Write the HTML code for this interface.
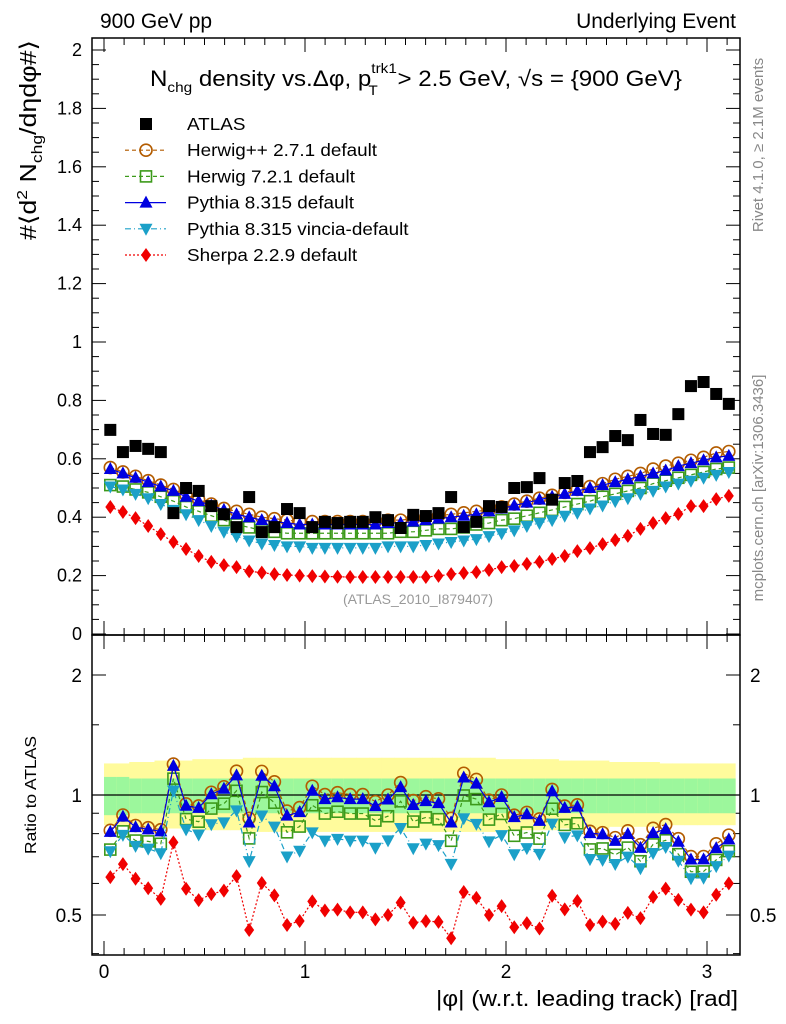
<!DOCTYPE html>
<html><head><meta charset="utf-8"><style>
body{margin:0;background:#fff;}
svg{display:block;font-family:"Liberation Sans",sans-serif;}
</style></head><body>
<svg id="chart" width="786" height="1024" viewBox="0 0 786 1024" xmlns="http://www.w3.org/2000/svg">
<text x="100" y="28" font-size="21">900 GeV pp</text>
<text x="736" y="28" font-size="21" text-anchor="end">Underlying Event</text>
<text transform="translate(763,145) rotate(-90)" font-size="15" fill="#888" text-anchor="middle">Rivet 4.1.0, ≥ 2.1M events</text>
<text transform="translate(763,488) rotate(-90)" font-size="15" fill="#888" text-anchor="middle">mcplots.cern.ch [arXiv:1306.3436]</text>
<text transform="translate(36,140) rotate(-90)" font-size="23" text-anchor="middle" textLength="200" lengthAdjust="spacingAndGlyphs">#⟨d<tspan font-size="15" dy="-9">2</tspan><tspan dy="9"> N</tspan><tspan font-size="15" dy="6">chg</tspan><tspan dy="-6">/dηdφ#⟩</tspan></text>
<text transform="translate(36,795) rotate(-90)" font-size="16" text-anchor="middle" textLength="118" lengthAdjust="spacingAndGlyphs">Ratio to ATLAS</text>
<text x="738" y="1006" font-size="22" text-anchor="end" textLength="302" lengthAdjust="spacingAndGlyphs">|φ| (w.r.t. leading track) [rad]</text>
<text x="150" y="86" font-size="22" textLength="532" lengthAdjust="spacingAndGlyphs">N<tspan font-size="14" dy="6">chg</tspan><tspan dy="-6"> density vs.Δφ, p</tspan><tspan font-size="14" dy="-13">trk1</tspan><tspan font-size="14" dx="-26" dy="22">T</tspan><tspan dx="18" dy="-9">&gt; 2.5 GeV, √s = {900 GeV}</tspan></text>
<text x="418" y="604" font-size="14" fill="#999" text-anchor="middle">(ATLAS_2010_I879407)</text>
<g id="main"></g><g id="ratio"></g><g id="legend"></g>
</svg>
<script>
const xCenters=[];for(let i=0;i<50;i++)xCenters.push(+(0.0314+i*0.0628).toFixed(4));
const atlas=[0.699,0.623,0.644,0.634,0.623,0.414,0.500,0.490,0.438,0.410,0.366,0.469,0.349,0.366,0.428,0.414,0.366,0.384,0.380,0.384,0.384,0.400,0.390,0.363,0.408,0.404,0.414,0.469,0.366,0.384,0.438,0.435,0.500,0.503,0.534,0.460,0.517,0.524,0.623,0.640,0.678,0.664,0.733,0.685,0.682,0.753,0.849,0.863,0.822,0.788];
const herwigpp=[0.57,0.555,0.54,0.525,0.51,0.495,0.475,0.46,0.445,0.43,0.42,0.41,0.40,0.395,0.39,0.385,0.385,0.385,0.385,0.385,0.385,0.385,0.39,0.39,0.395,0.40,0.405,0.41,0.415,0.42,0.425,0.435,0.445,0.455,0.465,0.475,0.485,0.495,0.505,0.515,0.53,0.54,0.55,0.565,0.575,0.585,0.595,0.605,0.62,0.625];
const pythia=[0.565,0.55,0.535,0.52,0.505,0.49,0.47,0.455,0.44,0.425,0.41,0.40,0.39,0.385,0.38,0.375,0.375,0.375,0.375,0.375,0.375,0.375,0.38,0.38,0.385,0.39,0.395,0.40,0.405,0.41,0.42,0.43,0.44,0.45,0.46,0.47,0.48,0.49,0.50,0.51,0.52,0.53,0.54,0.55,0.56,0.575,0.585,0.595,0.605,0.61];
const herwig7=[0.51,0.505,0.495,0.485,0.47,0.455,0.435,0.42,0.405,0.39,0.375,0.365,0.355,0.35,0.345,0.345,0.345,0.345,0.345,0.345,0.345,0.345,0.345,0.35,0.35,0.355,0.36,0.36,0.365,0.375,0.38,0.39,0.395,0.405,0.415,0.425,0.435,0.445,0.455,0.47,0.48,0.49,0.50,0.515,0.525,0.535,0.545,0.555,0.565,0.57];
const vincia=[0.505,0.495,0.48,0.465,0.445,0.425,0.41,0.39,0.37,0.35,0.335,0.32,0.31,0.305,0.30,0.30,0.295,0.295,0.295,0.295,0.295,0.295,0.30,0.30,0.30,0.305,0.31,0.315,0.32,0.325,0.335,0.345,0.355,0.37,0.38,0.39,0.405,0.415,0.43,0.44,0.455,0.465,0.48,0.49,0.505,0.515,0.525,0.535,0.545,0.555];
const sherpa=[0.435,0.418,0.397,0.370,0.342,0.315,0.291,0.267,0.247,0.236,0.229,0.215,0.21,0.205,0.202,0.2,0.198,0.197,0.196,0.195,0.195,0.195,0.195,0.195,0.195,0.195,0.199,0.205,0.209,0.212,0.219,0.229,0.233,0.24,0.247,0.257,0.267,0.284,0.294,0.308,0.322,0.336,0.36,0.38,0.397,0.411,0.438,0.438,0.462,0.473];
const statErr=[0.11,0.11,0.10,0.10,0.10,0.10,0.10,0.10,0.10,0.10,0.10,0.10,0.10,0.10,0.10,0.10,0.10,0.10,0.10,0.10,0.10,0.10,0.10,0.10,0.10,0.10,0.10,0.10,0.10,0.10,0.10,0.10,0.10,0.10,0.10,0.10,0.10,0.10,0.10,0.10,0.10,0.10,0.10,0.10,0.10,0.10,0.10,0.10,0.10,0.10];
const totErr=[0.20,0.20,0.21,0.21,0.22,0.22,0.22,0.23,0.23,0.23,0.23,0.24,0.24,0.24,0.24,0.24,0.24,0.24,0.24,0.24,0.24,0.24,0.24,0.24,0.24,0.24,0.24,0.24,0.24,0.24,0.24,0.23,0.23,0.23,0.23,0.23,0.22,0.22,0.22,0.22,0.21,0.21,0.21,0.21,0.20,0.20,0.20,0.20,0.20,0.20];
const yTicks=["0","0.2","0.4","0.6","0.8","1","1.2","1.4","1.6","1.8","2"];
const xTicks=["0","1","2","3"];
const rTicks=["0.5","1","2"];

const NS="http://www.w3.org/2000/svg";
const L=92,R=740,T=38,MB=635,RB=955;
const X=v=>104+v*201;
const Y=v=>634-v*292;
const YR=r=>795-Math.log2(r)*120;
function mk(tag,at,parent){const e=document.createElementNS(NS,tag);for(const k in at)e.setAttribute(k,at[k]);parent.appendChild(e);return e;}
const main=document.getElementById('main'),ratio=document.getElementById('ratio'),leg=document.getElementById('legend');

for(let i=0;i<50;i++){
  const x0=X(xCenters[i]-0.0314),w=201*0.0628+0.5;
  const a=mk('rect',{x:x0,y:YR(1+totErr[i]),width:w,height:YR(1-totErr[i]*0.8)-YR(1+totErr[i]),fill:'#fffb9c'},ratio);
  
  
  const b=mk('rect',{x:x0,y:YR(1+statErr[i]),width:w,height:YR(1-statErr[i])-YR(1+statErr[i]),fill:'#9cf79c'},ratio);
  
  
}
const one=mk('line',{x1:L,x2:R,y1:YR(1),y2:YR(1),stroke:'#000','stroke-width':1.2},ratio);



for(const [y0,y1,nm] of [[T,MB,'main-frame'],[MB,RB,'ratio-frame']]){
  const f=mk('rect',{x:L,y:y0,width:R-L,height:y1-y0,fill:'none',stroke:'#000','stroke-width':1.5},main);
  
  
}
for(let k=0;k<=40;k++){const v=k*0.05,y=Y(v);if(y<T)continue;const len=k%4==0?14:7;
  mk('line',{x1:L,x2:L+len,y1:y,y2:y,stroke:'#000'},main);mk('line',{x1:R,x2:R-len,y1:y,y2:y,stroke:'#000'},main);}
yTicks.forEach(t=>{const tx=mk('text',{x:82,y:Y(+t)+6,'font-size':18,'text-anchor':'end'},main);tx.textContent=t;
  
  });
[0.4,0.5,0.6,0.7,0.8,0.9,1,1.5,2].forEach(r=>{const y=YR(r);const len=(r==0.5||r==1||r==2)?14:7;
  mk('line',{x1:L,x2:L+len,y1:y,y2:y,stroke:'#000'},main);mk('line',{x1:R,x2:R-len,y1:y,y2:y,stroke:'#000'},main);});
rTicks.forEach(t=>{for(const [x,a] of [[82,'end'],[750,'start']]){const tx=mk('text',{x:x,y:YR(+t)+7,'font-size':19,'text-anchor':a},main);tx.textContent=t;
  
  }});
for(let k=0;k<=31;k++){const x=X(k*0.1);const len=k%10==0?14:7;
  for(const [yb,d] of [[T,1],[MB,-1],[MB,1],[RB,-1]])mk('line',{x1:x,x2:x,y1:yb,y2:yb+d*len,stroke:'#000'},main);}
xTicks.forEach(t=>{const tx=mk('text',{x:X(+t),y:978,'font-size':19,'text-anchor':'middle'},main);tx.textContent=t;
  
  });

function marker(g,type,x,y,col){
  if(type=='sq')return mk('rect',{x:x-6,y:y-6,width:12,height:12,fill:col},g);
  if(type=='circ')return mk('circle',{cx:x,cy:y,r:6,fill:'none',stroke:col,'stroke-width':1.6},g);
  if(type=='osq')return mk('rect',{x:x-5.5,y:y-5.5,width:11,height:11,fill:'none',stroke:col,'stroke-width':1.6},g);
  if(type=='tu')return mk('polygon',{points:`${x},${y-7} ${x-6.5},${y+5} ${x+6.5},${y+5}`,fill:col},g);
  if(type=='td')return mk('polygon',{points:`${x},${y+7} ${x-6.5},${y-5} ${x+6.5},${y-5}`,fill:col},g);
  if(type=='dia')return mk('polygon',{points:`${x},${y-7} ${x-5},${y} ${x},${y+7} ${x+5},${y}`,fill:col},g);
}
const series=[
 {n:'herwigpp',d:herwigpp,c:'#b35c00',m:'circ',dash:'4,3',label:'Herwig++ 2.7.1 default'},
 {n:'herwig7',d:herwig7,c:'#3c9a1a',m:'osq',dash:'4,3',label:'Herwig 7.2.1 default'},
 {n:'pythia',d:pythia,c:'#0000e0',m:'tu',dash:'',label:'Pythia 8.315 default'},
 {n:'vincia',d:vincia,c:'#1ba0c8',m:'td',dash:'6,3,1,3',label:'Pythia 8.315 vincia-default'},
 {n:'sherpa',d:sherpa,c:'#f00000',m:'dia',dash:'2,2',label:'Sherpa 2.2.9 default'}];
series.forEach(s=>{
  for(const [g,f,nm] of [[main,(v,i)=>Y(v),'main'],[ratio,(v,i)=>YR(v/atlas[i]),'ratio']]){
    const pts=s.d.map((v,i)=>X(xCenters[i])+','+f(v,i)).join(' ');
    const pl=mk('polyline',{points:pts,fill:'none',stroke:s.c,'stroke-width':1.2,'stroke-dasharray':s.dash},g);
    
    
    s.d.forEach((v,i)=>{const m=marker(g,s.m,X(xCenters[i]),f(v,i),s.c);
      
      });
  }
});
atlas.forEach((v,i)=>{const m=marker(main,'sq',X(xCenters[i]),Y(v),'#000');
  
  });
const rows=[{m:'sq',c:'#000',dash:null,label:'ATLAS',n:'atlas'}].concat(series);
rows.forEach((s,k)=>{const y=124+k*26.2;
  const g=mk('g',{},leg);
  
  
  if(s.dash!==null&&s.dash!==undefined)mk('line',{x1:125,x2:166,y1:y,y2:y,stroke:s.c,'stroke-width':1.2,'stroke-dasharray':s.dash},g);
  marker(g,s.m,146,y,s.c);
  const t=mk('text',{x:187,y:y+6,'font-size':17.5,transform:`translate(187,0) scale(1.08,1) translate(-187,0)`},g);t.textContent=s.label;});
</script>
</body></html>
